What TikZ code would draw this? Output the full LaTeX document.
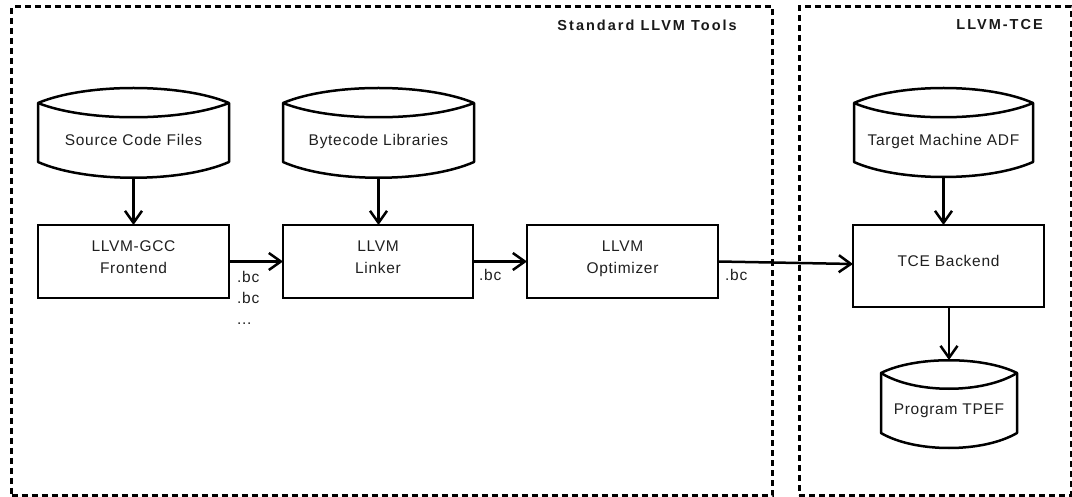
\documentclass[tikz,border=0pt]{standalone}
\usepackage{fontspec}
\setmainfont{Liberation Sans}
\newfontfamily\bodyfont[LetterSpace=4.5]{Liberation Sans}
\newfontfamily\titlefont[LetterSpace=14]{Liberation Sans}
\usetikzlibrary{arrows.meta,calc}
\newcommand\bxtop{\rule{0pt}{11pt}}
\newcommand\bxbot[1]{\rule[-#1pt]{0pt}{#1pt}}
\newcommand\dkstrut{\rule[-4pt]{0pt}{34pt}}
% disk outline: name, top bulge ctrl, inner bulge ctrl, bottom bulge ctrl
\newcommand\diskoutline[4]{%
  \draw[diskline] (#1.north west)
    .. controls ($(#1.north west)!.25!(#1.north east)+(0,-#2)$) and ($(#1.north west)!.75!(#1.north east)+(0,-#2)$) .. (#1.north east)
    -- (#1.south east)
    .. controls ($(#1.south west)!.75!(#1.south east)+(0,#4)$) and ($(#1.south west)!.25!(#1.south east)+(0,#4)$) .. (#1.south west)
    -- cycle;
  \draw[diskline] (#1.north west)
    .. controls ($(#1.north west)!.25!(#1.north east)+(0,#3)$) and ($(#1.north west)!.75!(#1.north east)+(0,#3)$) .. (#1.north east);
}
\begin{document}
\begin{tikzpicture}[x=1pt,y=-1pt,
  txt/.style={font=\bodyfont\fontsize{15.5pt}{22pt}\selectfont, text=black!88},
  procbox/.style={txt, draw=black, line width=2.5pt, inner sep=0pt, outer sep=0pt, align=center},
  disknode/.style={txt, draw=none, inner sep=0pt, outer sep=0pt},
  diskline/.style={line width=2.5pt, line join=round},
  group/.style={draw=black, line width=3pt, dash pattern=on 6pt off 4pt, inner sep=0pt, outer sep=0pt},
  grouptitle/.style={font=\titlefont\bfseries\fontsize{14.5pt}{16pt}\selectfont, text=black!90, anchor=base east, inner sep=0pt},
  bclabel/.style={txt, inner sep=0pt, align=left, font=\bodyfont\fontsize{15.5pt}{21pt}\selectfont},
  flow/.style={line width=2.5pt, -{Straight Barb[length=12pt,width=17pt,line width=2.5pt]}}
]
\useasboundingbox (0,0) rectangle (1072,497);

% groups
\node[group, minimum width=760.5pt, minimum height=488pt] (std) at (391.75,251) {};
\node[group, minimum width=272pt, minimum height=488pt] (tce) at (935,251) {};
\node[grouptitle] (stdt) at ($(std.north east)+(-35,23.7)$) {Standard LLVM Tools};
\node[grouptitle] (tcet) at ($(tce.north east)+(-28,23)$) {LLVM-TCE};

% disks
\node[disknode, minimum width=191pt, minimum height=59pt] (src) at (133.5,132.5) {\dkstrut Source Code Files};
\node[disknode, minimum width=191pt, minimum height=59pt] (lib) at (378.5,132.5) {\dkstrut Bytecode Libraries};
\node[disknode, minimum width=179pt, minimum height=59pt] (adf) at (943.5,132.5) {\dkstrut Target Machine ADF};
\node[disknode, minimum width=136pt, minimum height=60pt] (tpef) at (949,403) {\rule[-4pt]{0pt}{30pt}Program TPEF};
\diskoutline{src}{20}{19}{21}
\diskoutline{lib}{20}{19}{21}
\diskoutline{adf}{20}{19}{20}
\diskoutline{tpef}{17}{21}{20}

% process boxes
\node[procbox, minimum width=191pt, minimum height=73pt] (fe) at (133.5,261.5) {\bxtop LLVM-GCC\\Frontend\bxbot{9}};
\node[procbox, minimum width=190pt, minimum height=73pt] (ln) at (378,261.5) {\bxtop LLVM\\Linker\bxbot{9}};
\node[procbox, minimum width=191pt, minimum height=73pt] (opt) at (622.5,261.5) {\bxtop LLVM\\Optimizer\bxbot{9}};
\node[procbox, minimum width=191pt, minimum height=82pt] (be) at (948.5,266) {\bxtop TCE Backend\bxbot{10}};

% connectors
\draw[flow] ($(src.south)+(0,16)$) -- (fe.north);
\draw[flow] ($(lib.south)+(0,16)$) -- (ln.north -| lib.south);
\draw[flow] ($(adf.south)+(0,15)$) -- (be.north -| adf.south);
\draw[flow] (be.south -| tpef.north) -- ($(tpef.north)+(0,-13)$);
\draw[flow] (fe.east) -- (ln.west);
\draw[flow] (ln.east) -- (opt.west);
\draw[flow] (opt.east) -- ($(be.west)+(0,-2)$);

% labels
\node[bclabel, anchor=north west] (bc1) at ($(fe.east)+(8,9.5)$) {\bxtop .bc\\.bc\\...};
\node[bclabel, anchor=base west] (bc2) at ($(ln.east)+(6,19.5)$) {.bc};
\node[bclabel, anchor=base west] (bc3) at ($(opt.east)+(7,19.5)$) {.bc};
\end{tikzpicture}
\end{document}
